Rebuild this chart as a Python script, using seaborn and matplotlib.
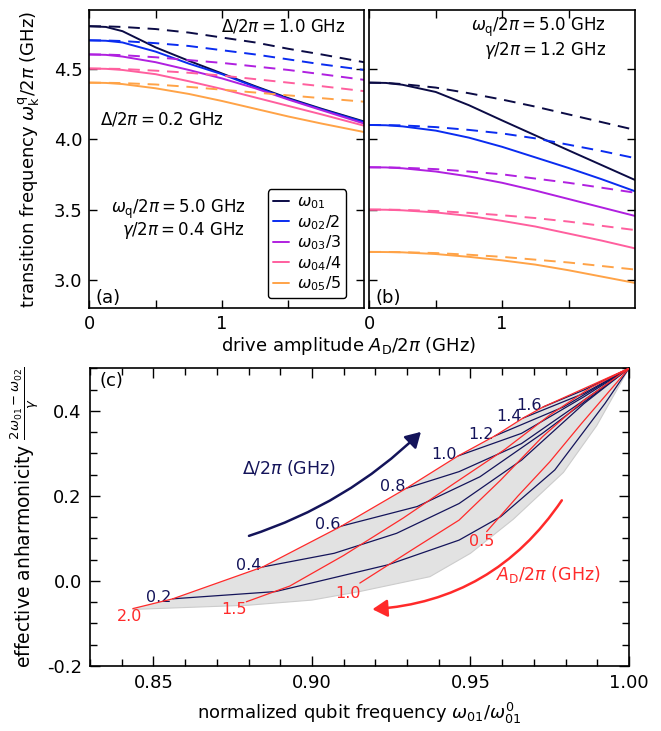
import numpy as np
import pandas as pd
import matplotlib
matplotlib.use("Agg")
import matplotlib.pyplot as plt
import seaborn as sns
from matplotlib.patches import FancyArrowPatch
from matplotlib.ticker import MultipleLocator, FixedLocator, FuncFormatter

sns.set_theme(style="ticks")
plt.rcParams['font.family'] = ['DejaVu Sans']
plt.rcParams['axes.unicode_minus'] = False
plt.rcParams['mathtext.fontset'] = 'dejavusans'
for k in ['text.color', 'axes.labelcolor', 'xtick.color', 'ytick.color', 'axes.edgecolor']:
    plt.rcParams[k] = 'black'

# ---------------- data: panels (a) and (b) ----------------
drive_a = [0.0, 0.125, 0.25, 0.5, 0.75, 1.0, 1.25, 1.5, 1.75, 2.07]
drive_b = [0.0, 0.125, 0.25, 0.5, 0.75, 1.0, 1.25, 1.5, 1.75, 2.0]
labels = [r'$\omega_{01}$', r'$\omega_{02}/2$', r'$\omega_{03}/3$', r'$\omega_{04}/4$', r'$\omega_{05}/5$']

a_solid = [
    [4.80, 4.795, 4.765, 4.65, 4.555, 4.465, 4.375, 4.29, 4.215, 4.125],
    [4.70, 4.697, 4.685, 4.62, 4.535, 4.46, 4.37, 4.285, 4.21, 4.12],
    [4.60, 4.597, 4.585, 4.545, 4.49, 4.43, 4.36, 4.28, 4.205, 4.11],
    [4.50, 4.498, 4.49, 4.46, 4.41, 4.355, 4.295, 4.235, 4.175, 4.095],
    [4.40, 4.398, 4.39, 4.36, 4.32, 4.27, 4.215, 4.16, 4.11, 4.05],
]
a_dashed = [
    [4.80, 4.799, 4.795, 4.78, 4.755, 4.72, 4.685, 4.64, 4.60, 4.545],
    [4.70, 4.699, 4.695, 4.68, 4.66, 4.63, 4.60, 4.565, 4.53, 4.49],
    [4.60, 4.599, 4.595, 4.58, 4.56, 4.54, 4.515, 4.49, 4.46, 4.42],
    [4.50, 4.499, 4.497, 4.485, 4.47, 4.45, 4.425, 4.40, 4.375, 4.34],
    [4.40, 4.399, 4.397, 4.387, 4.37, 4.35, 4.33, 4.31, 4.29, 4.265],
]
b_solid = [
    [4.40, 4.398, 4.385, 4.334, 4.24, 4.132, 4.026, 3.92, 3.815, 3.71],
    [4.10, 4.098, 4.09, 4.06, 4.01, 3.945, 3.87, 3.795, 3.715, 3.63],
    [3.80, 3.799, 3.793, 3.77, 3.735, 3.69, 3.635, 3.575, 3.515, 3.455],
    [3.50, 3.499, 3.495, 3.48, 3.455, 3.42, 3.38, 3.33, 3.28, 3.225],
    [3.20, 3.199, 3.197, 3.185, 3.165, 3.14, 3.11, 3.07, 3.025, 2.98],
]
b_dashed = [
    [4.40, 4.398, 4.39, 4.365, 4.325, 4.28, 4.23, 4.175, 4.12, 4.065],
    [4.10, 4.099, 4.097, 4.085, 4.065, 4.04, 4.005, 3.96, 3.915, 3.865],
    [3.80, 3.799, 3.797, 3.787, 3.77, 3.75, 3.72, 3.69, 3.655, 3.62],
    [3.50, 3.5, 3.498, 3.49, 3.477, 3.46, 3.44, 3.415, 3.385, 3.355],
    [3.20, 3.2, 3.198, 3.192, 3.18, 3.165, 3.145, 3.125, 3.10, 3.075],
]
colors = ['#0b0b45', '#0a2cf0', '#b020e0', '#ff5f9e', '#ffa347']

# ---------------- data: panel (c) ----------------
delta_labels = ['0.2', '0.4', '0.6', '0.8', '1.0', '1.2', '1.4', '1.6']
delta_x = [
    [0.8561, 0.8885, 0.9240, 0.9464, 0.9595, 0.9766, 0.9924, 1.0],
    [0.8845, 0.9070, 0.9267, 0.9464, 0.9661, 0.9858, 1.0],
    [0.9093, 0.9332, 0.9530, 0.9727, 1.0],
    [0.9298, 0.9464, 0.9661, 0.9858, 1.0],
    [0.9461, 0.9661, 0.9858, 1.0],
    [0.9577, 0.9793, 1.0],
    [0.9666, 0.9858, 1.0],
    [0.9729, 0.9858, 1.0],
]
delta_y = [
    [-0.042, -0.025, 0.038, 0.096, 0.151, 0.261, 0.417, 0.50],
    [0.033, 0.065, 0.112, 0.182, 0.284, 0.417, 0.50],
    [0.129, 0.175, 0.245, 0.347, 0.50],
    [0.218, 0.257, 0.323, 0.425, 0.50],
    [0.294, 0.347, 0.433, 0.50],
    [0.341, 0.409, 0.50],
    [0.383, 0.441, 0.50],
    [0.409, 0.449, 0.50],
]
drive_labels = ['2.0', '1.5', '1.0', '0.5']
drive_x = [
    [0.8435, 0.8561, 0.8845, 0.9093, 0.9298, 0.9461, 0.9577, 0.9666, 0.9729, 1.0],
    [0.8793, 0.8930, 0.9100, 0.9288, 0.9450, 0.9608, 0.9750, 0.9880, 1.0],
    [0.9151, 0.9332, 0.9464, 0.9595, 0.9727, 0.9858, 1.0],
    [0.9551, 0.9650, 0.9750, 0.9850, 1.0],
]
drive_y = [
    [-0.065, -0.042, 0.033, 0.129, 0.218, 0.294, 0.341, 0.383, 0.409, 0.50],
    [-0.049, -0.012, 0.060, 0.148, 0.230, 0.309, 0.390, 0.455, 0.50],
    [-0.005, 0.081, 0.143, 0.237, 0.339, 0.425, 0.50],
    [0.116, 0.200, 0.280, 0.370, 0.50],
]
edge_x = [0.8435, 0.8800, 0.9000, 0.9150, 0.9372, 0.9500, 0.9635, 0.9793, 0.9898, 1.0]
edge_y = [-0.067, -0.057, -0.045, -0.025, 0.010, 0.065, 0.145, 0.255, 0.365, 0.50]

navy = '#14145a'
red = '#ff2a2a'

fig = plt.figure(figsize=(6.61, 7.31), dpi=100)
ax_a = fig.add_axes([0.1351, 0.5782, 0.4156, 0.4081])
ax_b = fig.add_axes([0.5587, 0.5782, 0.4020, 0.4081])
ax_c = fig.add_axes([0.1362, 0.0889, 0.8154, 0.4073])

def freq_panel(ax, xs, solid, dashed, xmax):
    for i in range(5):
        df = pd.DataFrame({'A': xs, 'f': solid[i]})
        sns.lineplot(data=df, x='A', y='f', ax=ax, color=colors[i], lw=1.4,
                     label=labels[i], legend=False, sort=False)
        dfd = pd.DataFrame({'A': xs, 'f': dashed[i]})
        sns.lineplot(data=dfd, x='A', y='f', ax=ax, color=colors[i], lw=1.4,
                     linestyle=(0, (6, 4)), legend=False, sort=False)
    ax.set_xlim(0, xmax)
    ax.set_ylim(2.8, 4.915)
    ax.xaxis.set_major_locator(FixedLocator([0, 1]))
    ax.xaxis.set_minor_locator(FixedLocator([0.5, 1.5]))
    ax.yaxis.set_major_locator(MultipleLocator(0.5))
    ax.tick_params(which='both', direction='in', top=True, right=True,
                   length=6, width=1, labelsize=13, pad=5)
    for s in ax.spines.values():
        s.set_linewidth(1.2)
    ax.set_xlabel('')
    ax.set_ylabel('')

freq_panel(ax_a, drive_a, a_solid, a_dashed, 2.07)
freq_panel(ax_b, drive_b, b_solid, b_dashed, 2.0)
ax_b.tick_params(labelleft=False)
ax_a.set_ylabel(r'transition frequency $\omega_\mathrm{k}^\mathrm{q}/2\pi$ (GHz)', fontsize=13, labelpad=8)

ax_a.text(1.93, 4.80, r'$\Delta/2\pi=$1.0 GHz', ha='right', va='center', fontsize=12)
ax_a.text(0.08, 4.14, r'$\Delta/2\pi=$0.2 GHz', ha='left', va='center', fontsize=12)
ax_a.text(1.18, 3.50, r'$\omega_\mathrm{q}/2\pi=$5.0 GHz', ha='right', va='center', fontsize=12)
ax_a.text(1.17, 3.35, r'$\gamma/2\pi=$0.4 GHz', ha='right', va='center', fontsize=12)
ax_a.text(0.05, 2.87, '(a)', ha='left', va='center', fontsize=13)
ax_b.text(1.78, 4.79, r'$\omega_\mathrm{q}/2\pi=$5.0 GHz', ha='right', va='center', fontsize=12)
ax_b.text(1.78, 4.63, r'$\gamma/2\pi=$1.2 GHz', ha='right', va='center', fontsize=12)
ax_b.text(0.05, 2.87, '(b)', ha='left', va='center', fontsize=13)

leg = ax_a.legend(loc='lower right', bbox_to_anchor=(0.936, 0.034), fontsize=11.5, frameon=True,
                  fancybox=True, handlelength=1.0, handletextpad=0.5, labelspacing=0.12,
                  borderpad=0.3, borderaxespad=0.0)
leg.get_frame().set_edgecolor('black')
leg.get_frame().set_linewidth(1.0)
leg.get_frame().set_alpha(1)

fig.text(0.528, 0.527, r'drive amplitude $A_\mathrm{D}/2\pi$ (GHz)', ha='center', va='center', fontsize=13)

# ---------------- panel (c) ----------------
ax_c.fill(edge_x + drive_x[0][::-1], edge_y + drive_y[0][::-1], color='#e2e2e2', lw=0, zorder=1)
sns.lineplot(x=edge_x, y=edge_y, ax=ax_c, color='#cccccc', lw=0.8, sort=False)
for xs, ys in zip(delta_x, delta_y):
    sns.lineplot(x=xs, y=ys, ax=ax_c, color=navy, lw=0.9, sort=False, zorder=3)
for xs, ys in zip(drive_x, drive_y):
    sns.lineplot(x=xs, y=ys, ax=ax_c, color=red, lw=0.9, sort=False, zorder=4)

for lab, xs, ys in zip(delta_labels, delta_x, delta_y):
    ax_c.text(xs[0] - 0.0003, ys[0] + 0.003, lab, color=navy, ha='right', va='center', fontsize=11.5)
red_pos = [(0.8465, -0.083), (0.8795, -0.068), (0.9155, -0.029), (0.9575, 0.092)]
for lab, (tx, ty) in zip(drive_labels, red_pos):
    ax_c.text(tx, ty, lab, color=red, ha='right', va='center', fontsize=11.5)

ax_c.add_patch(FancyArrowPatch((0.8793, 0.104), (0.935, 0.355), connectionstyle='arc3,rad=0.12',
                               arrowstyle='-|>,head_length=6,head_width=3.5', color=navy, lw=1.8,
                               mutation_scale=1.5, zorder=5))
ax_c.add_patch(FancyArrowPatch((0.9793, 0.195), (0.9182, -0.067), connectionstyle='arc3,rad=-0.25',
                               arrowstyle='-|>,head_length=6,head_width=3.5', color=red, lw=1.8,
                               mutation_scale=1.5, zorder=5))
ax_c.text(0.8927, 0.266, r'$\Delta/2\pi$ (GHz)', color=navy, ha='center', va='center', fontsize=12.5)
ax_c.text(0.9744, 0.014, r'$A_\mathrm{D}/2\pi$ (GHz)', color=red, ha='center', va='center', fontsize=12.5)
ax_c.text(0.833, 0.47, '(c)', ha='left', va='center', fontsize=13)

ax_c.set_xlim(0.83, 1.0)
ax_c.set_ylim(-0.2, 0.5)
ax_c.xaxis.set_major_locator(FixedLocator([0.85, 0.90, 0.95, 1.00]))
ax_c.xaxis.set_minor_locator(MultipleLocator(0.01))
ax_c.yaxis.set_major_locator(FixedLocator([-0.2, 0.0, 0.2, 0.4]))
ax_c.yaxis.set_minor_locator(MultipleLocator(0.05))
ax_c.xaxis.set_major_formatter(FuncFormatter(lambda v, p: f'{v:.2f}'))
ax_c.yaxis.set_major_formatter(FuncFormatter(lambda v, p: f'{v:.1f}'))
ax_c.tick_params(which='both', direction='in', top=True, right=True, width=1, labelsize=13, pad=6)
ax_c.tick_params(which='major', length=7)
ax_c.tick_params(which='minor', length=5)
for s in ax_c.spines.values():
    s.set_linewidth(1.2)
ax_c.set_xlabel(r'normalized qubit frequency $\omega_{01}/\omega_{01}^0$', fontsize=13, labelpad=6)
ax_c.set_ylabel(r'effective anharmonicity $\frac{2\omega_{01}-\omega_{02}}{\gamma}$', fontsize=13.5, labelpad=4)

fig.savefig('out.png', dpi=100)
